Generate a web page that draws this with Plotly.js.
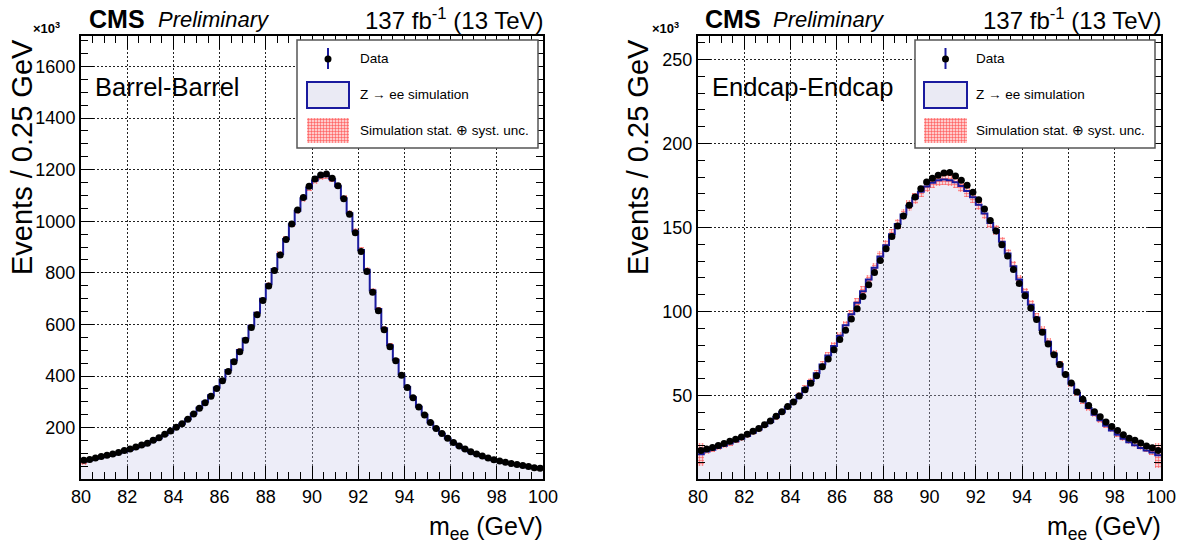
<!DOCTYPE html>
<html><head><meta charset="utf-8">
<script src="https://cdn.plot.ly/plotly-3.0.1.min.js"></script>
<style>html,body{margin:0;padding:0;background:#fff}#chart{width:1180px;height:544px}</style>
</head><body><div id="chart"></div>
<script>
// ---------------- data (units of 10^3 events per 0.25 GeV) ----------------
const binLow = 80, binWidth = 0.25, nBins = 80;

const bbData = [73.5,77,82,88,93,98,104,111,117,125,133,140,151,161,174,187,202,215,233,253,
  275,297,322,352,382,418,455,494,539,588,638,693,749,809,869,929,989,1044,1092,1136,
  1164,1179,1183,1167,1138,1087,1027,955,883,805,725,653,579,514,459,403,356,316,280,249,
  220,197,177,159,142,129,117,107,98,90,82,76,71,66,61,57,53,49,45,43];
const bbMC = [69,74,79,85,90,95,101,108,114,122,130,138,149,159,172,186,201,215,233,254,
  277,300,326,356,387,423,461,501,546,595,645,700,756,815,873,931,988,1041,1088,1130,
  1158,1173,1176,1163,1136,1089,1031,961,889,812,732,660,585,519,463,406,358,318,281,250,
  220,197,176,158,141,127,115,105,96,88,80,74,69,64,59,55,51,47,44,41];
const bbUnc = [12,3,3,3,3,3,3,3,3,3,3,3,3,3,3,3,3,3,3,4,
  4,4,4,5,5,5,6,6,7,7,8,8,9,9,10,10,11,11,12,12,
  12,12,12,12,12,12,11,11,10,10,9,9,8,8,7,7,6,5,5,4,
  4,4,3,3,3,3,3,3,3,3,3,3,3,3,3,3,3,3,3,8];

const eeData = [17.3,18.1,19.1,20.3,21.5,22.7,23.9,25.3,26.9,28.7,30.4,32.6,34.8,37.6,40.4,43.4,46.2,49.7,53.5,57.3,
  61.7,67.1,71.8,77.2,83.4,88.8,95.5,101.7,109,116,123.2,130.3,137.3,144.7,150.9,156.8,163.2,168.2,173.1,177.1,
  179.3,181.1,182.5,182.7,180.7,178.1,175.2,171.0,166.5,161,154.2,147.9,139.7,133.1,125,116.6,109.4,102.1,95.3,87.6,
  80.6,74.2,68.5,62.5,57.5,52.1,47.8,44.0,40.4,37.4,34.2,31.6,29.1,26.7,24.5,23.3,21.7,19.9,18.9,17.3];
const eeMC = [15.0,16.6,17.7,18.9,20.1,21.4,22.7,24.2,25.9,27.8,29.7,31.9,34.3,37.0,40.0,43.2,46.6,50.3,54.3,58.6,
  63.3,68.4,73.8,79.5,85.5,91.8,98.4,105.2,112.1,119.1,126.0,132.8,139.5,146.0,152.1,157.7,162.9,167.4,171.3,174.4,
  176.7,178.1,178.6,178.2,176.9,174.7,171.7,168.0,163.5,158.4,152.7,148.5,141.5,134.5,127,119,111.5,104,96.5,89,
  82,75,68.7,62.5,57,51.5,46.8,42.5,38.6,35.2,32.0,29.2,26.6,24.3,22.2,20.4,18.8,17.3,16.0,14.5];
const eeUnc = [6.7,1.2,1.2,1.2,1.2,1.2,1.2,1.2,1.2,1.2,1.2,1.2,1.3,1.3,1.4,1.5,1.6,1.7,1.8,1.9,
  2.0,2.1,2.2,2.3,2.4,2.5,2.6,2.7,2.8,2.9,3.0,3.0,3.1,3.1,3.2,3.2,3.3,3.3,3.3,3.4,
  3.4,3.4,3.4,3.4,3.4,3.3,3.3,3.3,3.2,3.2,3.1,3.1,3.0,3.0,2.9,2.8,2.7,2.6,2.5,2.4,
  2.3,2.2,2.1,2.0,1.9,1.8,1.7,1.6,1.5,1.4,1.3,1.2,1.2,1.2,1.2,1.2,1.2,1.2,1.2,7.5];

const panelLabels = ['Barrel-Barrel', 'Endcap-Endcap'];
const cmsText = 'CMS';
const extraText = 'Preliminary';
const lumiText = '137 fb<sup>-1</sup> (13 TeV)';
const legendLabels = ['Data', 'Z \u2192 ee simulation', 'Simulation stat. \u2295 syst. unc.'];
const xTitle = 'm<sub>ee</sub> (GeV)';
const yTitle = 'Events / 0.25 GeV';
const yExponent = '\u00d710<sup>3</sup>';

// ---------------- derived bin geometry ----------------
const centers = [], edges = [];
for (let i = 0; i < nBins; i++) centers.push(binLow + (i + 0.5) * binWidth);
for (let i = 0; i <= nBins; i++) edges.push(binLow + i * binWidth);

// ---------------- page geometry (pixels) ----------------
const W = 1180, H = 544;
const PX = v => v / W, PY = v => 1 - v / H;
const FONT = 'Liberation Sans, Arial, Helvetica, sans-serif';
const panels = [
  {data: bbData, mc: bbMC, unc: bbUnc, xa: 'x', ya: 'y', x0: 81, x1: 543, yr: [1, 1718], dt: 200, mdt: 50,
   leg: {bx0: 297, bx1: 538, sx0: 307, sx1: 349, tx: 358}, label: panelLabels[0],
   cmsX: 89, extraX: 158, yTitleX: 22, expX: 33},
  {data: eeData, mc: eeMC, unc: eeUnc, xa: 'x2', ya: 'y2', x0: 698, x1: 1161, yr: [0.3, 264], dt: 50, mdt: 10,
   leg: {bx0: 915, bx1: 1155, sx0: 924, sx1: 967, tx: 974}, label: panelLabels[1],
   cmsX: 705, extraX: 773, yTitleX: 638, expX: 652}
];
const Y0 = 36, Y1 = 479;

const traces = [], shapes = [], annotations = [];
const lineBlue = '#1a1a9e';

panels.forEach(p => {
  // MC histogram fill
  traces.push({type: 'bar', x: centers, y: p.mc, width: binWidth, xaxis: p.xa, yaxis: p.ya,
    marker: {color: 'rgba(200,200,232,0.32)', line: {width: 0}}, hoverinfo: 'skip'});
  // uncertainty band
  traces.push({type: 'bar', x: centers, base: p.mc.map((v, i) => v - p.unc[i]), y: p.unc.map(u => 2 * u),
    width: binWidth, xaxis: p.xa, yaxis: p.ya, hoverinfo: 'skip',
    marker: {color: 'rgba(255,170,170,0.45)', line: {width: 0},
      pattern: {shape: '+', fgcolor: 'rgba(255,40,40,0.75)', bgcolor: 'rgba(255,180,180,0.45)', size: 3, solidity: 0.35}}});
  // MC outline (step)
  traces.push({type: 'scatter', mode: 'lines', x: edges, y: p.mc.concat([p.mc[p.mc.length - 1]]),
    line: {shape: 'hv', color: lineBlue, width: 2}, xaxis: p.xa, yaxis: p.ya, hoverinfo: 'skip'});
  // data
  traces.push({type: 'scatter', mode: 'markers', x: centers, y: p.data, xaxis: p.xa, yaxis: p.ya,
    marker: {color: 'black', size: 7}, hoverinfo: 'skip'});

  // legend box
  const L = p.leg;
  shapes.push({type: 'rect', xref: 'paper', yref: 'paper', x0: PX(L.bx0), x1: PX(L.bx1), y0: PY(148), y1: PY(40),
    fillcolor: 'white', line: {color: '#555', width: 1.5}, layer: 'above'});
  const mx = (L.sx0 + L.sx1) / 2;
  shapes.push({type: 'line', xref: 'paper', yref: 'paper', x0: PX(mx), x1: PX(mx), y0: PY(69), y1: PY(48),
    line: {color: lineBlue, width: 2}, layer: 'above'});
  shapes.push({type: 'circle', xref: 'paper', yref: 'paper', x0: PX(mx - 3.5), x1: PX(mx + 3.5), y0: PY(62.5), y1: PY(55.5),
    fillcolor: 'black', line: {color: 'black', width: 0}, layer: 'above'});
  shapes.push({type: 'rect', xref: 'paper', yref: 'paper', x0: PX(L.sx0), x1: PX(L.sx1), y0: PY(108), y1: PY(82),
    fillcolor: '#eaeaf4', line: {color: lineBlue, width: 2}, layer: 'above'});
  shapes.push({type: 'rect', xref: 'paper', yref: 'paper', x0: PX(L.sx0), x1: PX(L.sx1), y0: PY(143), y1: PY(118),
    fillcolor: '#ffcaca', line: {width: 0}, layer: 'above'});
  for (let xx = L.sx0 + 1.5; xx < L.sx1; xx += 3)
    shapes.push({type: 'line', xref: 'paper', yref: 'paper', x0: PX(xx), x1: PX(xx), y0: PY(143), y1: PY(118),
      line: {color: 'rgba(255,70,70,0.5)', width: 1}, layer: 'above'});
  for (let yy = 119.5; yy < 143; yy += 3)
    shapes.push({type: 'line', xref: 'paper', yref: 'paper', x0: PX(L.sx0), x1: PX(L.sx1), y0: PY(yy), y1: PY(yy),
      line: {color: 'rgba(255,70,70,0.5)', width: 1}, layer: 'above'});

  const ann = (text, x, y, xa, ya, size, extra, fontExtra) => annotations.push(Object.assign({
    text, xref: 'paper', yref: 'paper', x: PX(x), y: PY(y), xanchor: xa, yanchor: ya, showarrow: false,
    font: Object.assign({family: FONT, size, color: 'black'}, fontExtra || {})}, extra || {}));
  ann(legendLabels[0], L.tx, 59, 'left', 'middle', 13.5);
  ann(legendLabels[1], L.tx, 95, 'left', 'middle', 13.5);
  ann(legendLabels[2], L.tx, 130.5, 'left', 'middle', 13.5);

  ann(cmsText, p.cmsX - 2, 19, 'left', 'middle', 25, null, {weight: 'bold'});
  ann(extraText, p.extraX - 2, 20, 'left', 'middle', 22, null, {style: 'italic'});
  ann(lumiText, p.x1 + 3, 19, 'right', 'middle', 24);
  ann(p.label, p.x0 + 12, 87, 'left', 'middle', 25.5);
  ann(yExponent, p.expX - 2, 28, 'left', 'middle', 13, null, {weight: 'bold'});
  ann(xTitle, p.x1 + 2, 528, 'right', 'middle', 25);
  ann(yTitle, p.yTitleX, 37, 'center', 'top', 29, {textangle: -90});
});

function xAxis(p) {
  return {domain: [PX(p.x0), PX(p.x1)], anchor: p.ya, range: [binLow, binLow + nBins * binWidth],
    tick0: 80, dtick: 2, ticks: 'inside', ticklen: 13, tickwidth: 1, tickcolor: 'black',
    showline: true, linecolor: 'black', linewidth: 2, mirror: 'ticks', zeroline: false,
    showgrid: true, gridcolor: '#222', griddash: '2px,2px', gridwidth: 1,
    minor: {tick0: 80, dtick: 0.5, ticks: 'inside', ticklen: 7, tickwidth: 1, tickcolor: 'black', showgrid: false},
    tickfont: {family: FONT, size: 18, color: 'black'}, fixedrange: true};
}
function yAxis(p) {
  return {domain: [PY(Y1), PY(Y0)], anchor: p.xa, range: p.yr, tick0: 0, dtick: p.dt,
    ticks: 'inside', ticklen: 13, tickwidth: 1, tickcolor: 'black',
    showline: true, linecolor: 'black', linewidth: 2, mirror: 'ticks', zeroline: false,
    showgrid: true, gridcolor: '#222', griddash: '2px,2px', gridwidth: 1,
    minor: {tick0: 0, dtick: p.mdt, ticks: 'inside', ticklen: 7, tickwidth: 1, tickcolor: 'black', showgrid: false},
    tickfont: {family: FONT, size: 18, color: 'black'}, fixedrange: true};
}

const layout = {
  width: W, height: H, margin: {l: 0, r: 0, t: 0, b: 0}, paper_bgcolor: 'white', plot_bgcolor: 'white',
  showlegend: false, barmode: 'overlay', bargap: 0, font: {family: FONT, color: 'black'},
  xaxis: xAxis(panels[0]), yaxis: yAxis(panels[0]),
  xaxis2: xAxis(panels[1]), yaxis2: yAxis(panels[1]),
  shapes, annotations
};
Plotly.newPlot('chart', traces, layout, {staticPlot: true, displayModeBar: false});
</script></body></html>
